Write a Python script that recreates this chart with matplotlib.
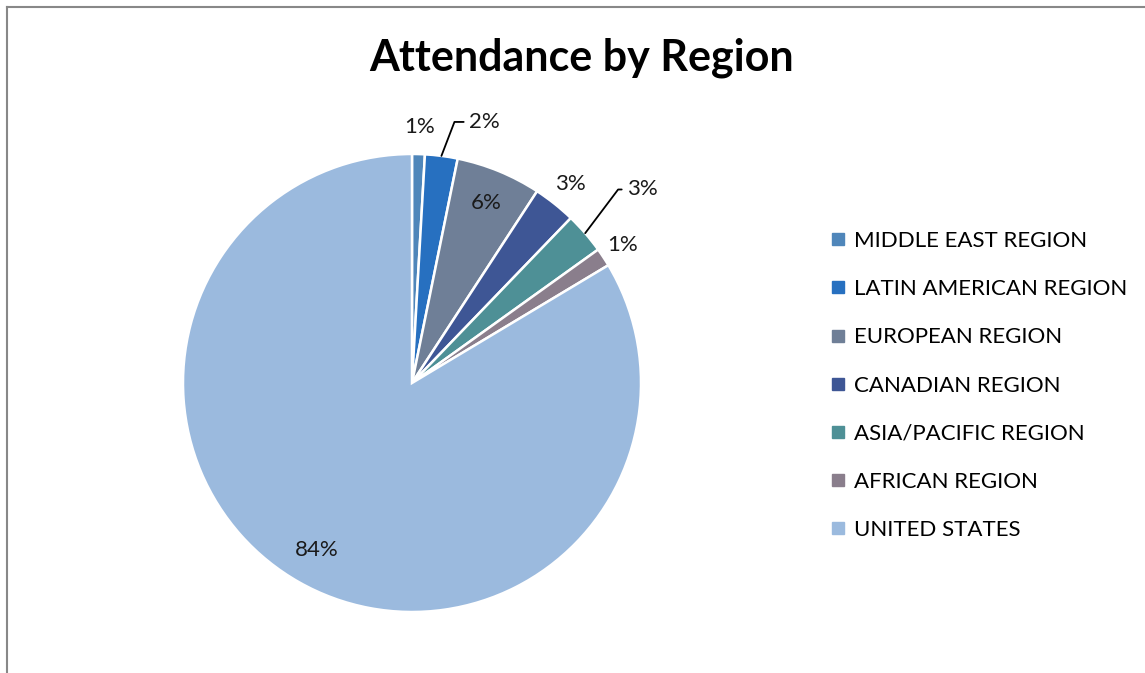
import numpy as np
import matplotlib
matplotlib.use("Agg")
import matplotlib.pyplot as plt
from matplotlib.lines import Line2D

plt.rcParams['font.family'] = ['Lato', 'DejaVu Sans']

# Data (percent of attendance)
regions = ['MIDDLE EAST REGION', 'LATIN AMERICAN REGION', 'EUROPEAN REGION',
           'CANADIAN REGION', 'ASIA/PACIFIC REGION', 'AFRICAN REGION', 'UNITED STATES']
shares = [0.9, 2.3, 6.0, 3.0, 2.9, 1.3, 83.6]
colors = ['#4F86BA', '#2770C0', '#6F7F97', '#3E5695', '#4E9096', '#8A7E8C', '#9BBADE']

# label placement: radius (in pie radii) per slice, None -> use leader line
label_r = [1.12, None, 0.85, 1.11, None, 1.10, 0.84]

W, H = 1145, 673
fig = plt.figure(figsize=(W / 100, H / 100), dpi=100)

# pie centre and radius in pixels
cx, cy, R = 412, 383, 229
ax = fig.add_axes([(cx - 1.45 * R) / W, (H - cy - 1.45 * R) / H, 2.9 * R / W, 2.9 * R / H])

wedges, _ = ax.pie(shares, colors=colors, startangle=90, counterclock=False,
                   radius=1.0, wedgeprops=dict(edgecolor='white', linewidth=1.8))
ax.set_xlim(-1.45, 1.45)
ax.set_ylim(-1.45, 1.45)
ax.set_aspect('equal')
ax.axis('off')

total = sum(shares)
for i, w in enumerate(wedges):
    mid = np.deg2rad((w.theta1 + w.theta2) / 2)
    txt = f"{round(shares[i] / total * 100):.0f}%"
    if label_r[i] is not None:
        r = label_r[i]
        ax.text(r * np.cos(mid), r * np.sin(mid), txt, ha='center', va='center',
                fontsize=16, color='#1a1a1a')
    else:
        edge = (np.cos(mid), np.sin(mid))
        if i == 1:
            tx, ty, angB = 0.25, 1.14, 69
        else:
            tx, ty, angB = 0.94, 0.845, 53
        ax.annotate(txt, xy=edge, xytext=(tx, ty), ha='left', va='center',
                    fontsize=16, color='#1a1a1a',
                    arrowprops=dict(arrowstyle='-', color='black', lw=1.3,
                                    shrinkA=2, shrinkB=0,
                                    connectionstyle=f"angle,angleA=0,angleB={angB},rad=0"))

fig.text(582 / W, 1 - 58 / H, 'Attendance by Region', ha='center', va='center',
         fontsize=31, fontweight='bold', color='black')

handles = [Line2D([0], [0], marker='s', linestyle='none', markersize=9,
                  markerfacecolor=c, markeredgecolor=c) for c in colors]
fig.legend(handles, regions, loc='upper left', bbox_to_anchor=(818 / W, 1 - 222 / H),
           frameon=False, fontsize=16, labelspacing=1.27, handletextpad=0.2,
           handlelength=1.0, borderaxespad=0)

# outer frame lines (top and left)
fig.add_artist(Line2D([6.5 / W, 1], [1 - 6.5 / H, 1 - 6.5 / H], color='#888888', lw=1.5,
                      transform=fig.transFigure))
fig.add_artist(Line2D([6.5 / W, 6.5 / W], [0, 1 - 6.5 / H], color='#888888', lw=1.5,
                      transform=fig.transFigure))

fig.savefig('out.png', dpi=100)
